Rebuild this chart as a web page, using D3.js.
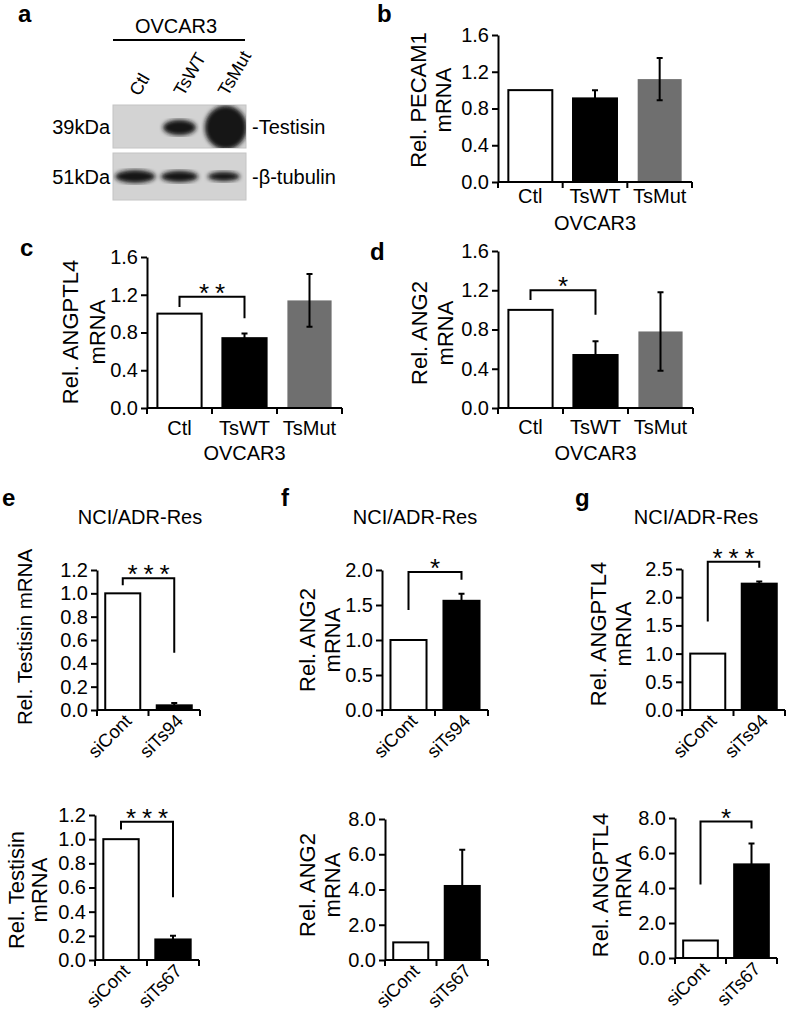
<!DOCTYPE html>
<html>
<head>
<meta charset="utf-8">
<script src="https://cdn.jsdelivr.net/npm/d3@7"></script>
<style>
  body { margin: 0; background: #fff; }
  svg text { font-family: "Liberation Sans", Arial, sans-serif; fill: #000; }
</style>
</head>
<body>
<svg id="fig" width="787" height="1015"></svg>
<script>
// ---- data ----
const blotLanes = ["Ctl", "TsWT", "TsMut"];
const testisinBand = [0, 0.35, 1.0];   // relative band strength
const tubulinBand = [1.0, 0.85, 0.6];

const ovcarGroups = ["Ctl", "TsWT", "TsMut"];
const pecam1Mean = [1.0, 0.91, 1.12];
const pecam1Err = [0, 0.09, 0.23];
const angptl4OvMean = [1.0, 0.74, 1.14];
const angptl4OvErr = [0, 0.05, 0.28];
const ang2OvMean = [1.0, 0.54, 0.78];
const ang2OvErr = [0, 0.14, 0.40];

const si94Groups = ["siCont", "siTs94"];
const si67Groups = ["siCont", "siTs67"];
const testisin94Mean = [1.0, 0.04];
const testisin94Err = [0, 0.02];
const ang2Si94Mean = [1.0, 1.56];
const ang2Si94Err = [0, 0.10];
const angptl4Si94Mean = [1.0, 2.24];
const angptl4Si94Err = [0, 0.04];
const testisin67Mean = [1.0, 0.17];
const testisin67Err = [0, 0.03];
const ang2Si67Mean = [1.0, 4.2];
const ang2Si67Err = [0, 2.05];
const angptl4Si67Mean = [1.0, 5.35];
const angptl4Si67Err = [0, 1.2];

const ticks16 = [0, 0.4, 0.8, 1.2, 1.6];
const ticks12 = [0, 0.2, 0.4, 0.6, 0.8, 1.0, 1.2];
const ticks20 = [0, 0.5, 1.0, 1.5, 2.0];
const ticks25 = [0, 0.5, 1.0, 1.5, 2.0, 2.5];
const ticks8 = [0, 2, 4, 6, 8];

const GREY = "#6f6f6f";
const ovFills = ["#fff", "#000", GREY];
const siFills = ["#fff", "#000"];

const svg = d3.select("#fig");

// ---- panel letters ----
const letters = [["a", 18, 22], ["b", 377, 22], ["c", 20, 256], ["d", 370, 260],
                 ["e", 2, 506], ["f", 281, 506], ["g", 575, 506]];
svg.selectAll("text.letter").data(letters).join("text")
  .attr("class", "letter")
  .attr("x", d => d[1]).attr("y", d => d[2])
  .style("font-size", "24px").style("font-weight", "bold")
  .text(d => d[0]);

// ---- panel a: western blot ----
function drawBlot() {
  const g = svg.append("g");
  const lx = d3.scaleBand().domain(blotLanes).range([113, 246]);

  g.append("text").attr("x", 176).attr("y", 33).attr("text-anchor", "middle")
    .style("font-size", "20px").text("OVCAR3");
  g.append("line").attr("x1", 113).attr("x2", 245).attr("y1", 40).attr("y2", 40)
    .attr("stroke", "#000").attr("stroke-width", 2);

  g.selectAll("text.lane").data(blotLanes).join("text")
    .attr("transform", d => `translate(${lx(d) + lx.bandwidth() / 2 + 4},97) rotate(-60)`)
    .style("font-size", "18px").text(d => d);

  const defs = svg.append("defs");
  defs.append("filter").attr("id", "blur").append("feGaussianBlur").attr("stdDeviation", 2.2);
  const panels = [
    { y: 105, h: 43, band: testisinBand, kda: "39kDa", name: "-Testisin", id: "c1" },
    { y: 153, h: 47, band: tubulinBand, kda: "51kDa", name: "-β-tubulin", id: "c2" }
  ];
  panels.forEach((p, k) => {
    defs.append("clipPath").attr("id", p.id).append("rect")
      .attr("x", 113).attr("y", p.y).attr("width", 133).attr("height", p.h);
    g.append("rect").attr("x", 113).attr("y", p.y).attr("width", 133).attr("height", p.h)
      .attr("fill", "#d3d3d3").attr("stroke", "#c4c4c4");
    const cy = p.y + p.h / 2 + (k === 0 ? 1 : 0);
    g.append("g").attr("clip-path", `url(#${p.id})`)
      .selectAll("ellipse").data(blotLanes.filter((d, i) => p.band[i] > 0)).join("ellipse")
      .attr("cx", d => lx(d) + lx.bandwidth() / 2 + (k === 0 && d === "TsMut" ? 2 : 0))
      .attr("cy", cy)
      .attr("rx", d => {
        const v = p.band[blotLanes.indexOf(d)];
        return k === 0 ? 14 + 7 * v : 10 + 10 * v;
      })
      .attr("ry", d => {
        const v = p.band[blotLanes.indexOf(d)];
        return k === 0 ? 22 * v : 2 + 4.5 * v;
      })
      .attr("fill", "#141414").attr("filter", "url(#blur)");
    g.append("text").attr("x", 110).attr("y", p.y + p.h / 2 + 7).attr("text-anchor", "end")
      .style("font-size", "20px").text(p.kda);
    g.append("text").attr("x", 252).attr("y", p.y + p.h / 2 + 7)
      .style("font-size", "20px").text(p.name);
  });
}
drawBlot();

// ---- bar panels ----
function drawPanel(c) {
  const g = svg.append("g");
  const x = d3.scaleBand().domain(c.cats).range([c.x0, c.x1]).paddingInner(0.32).paddingOuter(0.16);
  const y = d3.scaleLinear().domain([0, c.ymax]).range([c.yBot, c.yTop]);
  const cx = d => x(d) + x.bandwidth() / 2;

  g.selectAll("rect").data(c.cats).join("rect")
    .attr("x", d => x(d)).attr("width", x.bandwidth())
    .attr("y", (d, i) => y(c.mean[i])).attr("height", (d, i) => c.yBot - y(c.mean[i]))
    .attr("fill", (d, i) => c.fills[i])
    .attr("stroke", (d, i) => c.fills[i] === GREY ? "none" : "#000")
    .attr("stroke-width", 2);

  // error bars
  const eb = c.cats.map((d, i) => ({ d, m: c.mean[i], e: c.err[i] })).filter(o => o.e > 0);
  g.selectAll("path.err").data(eb).join("path")
    .attr("d", o => {
      const xc = cx(o.d), hi = y(o.m + o.e), lo = y(o.m - o.e);
      return `M${xc},${lo}V${hi}M${xc - 3},${hi}H${xc + 3}M${xc - 3},${lo}H${xc + 3}`;
    })
    .attr("stroke", "#000").attr("stroke-width", 2).attr("fill", "none");

  // y axis
  const ya = g.append("g").attr("transform", `translate(${c.x0},0)`)
    .call(d3.axisLeft(y).tickValues(c.ticks).tickFormat(d3.format(".1f"))
      .tickSize(6).tickSizeOuter(0).tickPadding(3));
  ya.select(".domain").attr("stroke-width", 2);
  ya.selectAll(".tick line").attr("stroke-width", 2);
  ya.selectAll(".tick text").style("font-size", "20px").attr("font-family", null);

  // x axis with boundary ticks
  const bounds = d3.range(c.cats.length + 1).map(i => c.x0 + i * x.step());
  g.append("path")
    .attr("d", `M${c.x0},${c.yBot}H${c.x1}` + bounds.map(b => `M${b},${c.yBot}V${c.yBot + 6}`).join(""))
    .attr("stroke", "#000").attr("stroke-width", 2).attr("fill", "none");

  // category labels
  if (c.rotated) {
    g.selectAll("text.cat").data(c.cats).join("text")
      .attr("transform", d => `translate(${cx(d) + 10},${c.yBot + 12}) rotate(-45)`)
      .attr("text-anchor", "end").style("font-size", "18.5px").text(d => d);
  } else {
    g.selectAll("text.cat").data(c.cats).join("text")
      .attr("x", cx).attr("y", c.xlabY).attr("text-anchor", "middle")
      .style("font-size", "20px").text(d => d);
  }
  if (c.sub) {
    g.append("text").attr("x", (c.x0 + c.x1) / 2).attr("y", c.subY)
      .attr("text-anchor", "middle").style("font-size", "20px").text(c.sub);
  }

  // y label
  c.ylabel.forEach((t, k) => {
    g.append("text").attr("transform", `translate(${c.ylabX[k]},${c.ylabY}) rotate(-90)`)
      .attr("text-anchor", "middle").attr("dy", "0.35em")
      .style("font-size", (c.ylabSize || 22) + "px").text(t);
  });

  // significance bracket
  if (c.sig) {
    const s = c.sig, xa = cx(c.cats[0]), xb = cx(c.cats[1]);
    g.append("path")
      .attr("d", `M${xa},${y(s.left)}V${y(s.top)}H${xb}V${y(s.right)}`)
      .attr("stroke", "#000").attr("stroke-width", 2).attr("fill", "none");
    const mid = (xa + xb) / 2;
    g.selectAll("text.star").data(d3.range(s.n)).join("text")
      .attr("x", i => mid + (i - (s.n - 1) / 2) * 16).attr("y", y(s.top) + 5)
      .attr("text-anchor", "middle").style("font-size", "26px").text("*");
  }
}

const panels = [
  { x0: 498, x1: 692, yTop: 35, yBot: 182, ymax: 1.6, ticks: ticks16, cats: ovcarGroups,
    mean: pecam1Mean, err: pecam1Err, fills: ovFills, ylabel: ["Rel. PECAM1", "mRNA"],
    ylabX: [418, 443], ylabY: 100, xlabY: 203, sub: "OVCAR3", subY: 230 },
  { x0: 147, x1: 342, yTop: 257, yBot: 408, ymax: 1.6, ticks: ticks16, cats: ovcarGroups,
    mean: angptl4OvMean, err: angptl4OvErr, fills: ovFills, ylabel: ["Rel. ANGPTL4", "mRNA"],
    ylabX: [70, 97], ylabY: 332, xlabY: 435, sub: "OVCAR3", subY: 460,
    sig: { n: 2, left: 1.07, top: 1.18, right: 0.95 } },
  { x0: 498, x1: 693, yTop: 251, yBot: 408, ymax: 1.6, ticks: ticks16, cats: ovcarGroups,
    mean: ang2OvMean, err: ang2OvErr, fills: ovFills, ylabel: ["Rel. ANG2", "mRNA"],
    ylabX: [419, 445], ylabY: 333, xlabY: 434, sub: "OVCAR3", subY: 460,
    sig: { n: 1, left: 1.10, top: 1.20, right: 0.95 } },
  { x0: 97, x1: 200, yTop: 570, yBot: 710, ymax: 1.2, ticks: ticks12, cats: si94Groups,
    mean: testisin94Mean, err: testisin94Err, fills: siFills, ylabel: ["Rel. Testisin mRNA"],
    ylabSize: 20.5, ylabX: [25], ylabY: 637, rotated: true,
    sig: { n: 3, left: 1.07, top: 1.13, right: 0.49 } },
  { x0: 382, x1: 488, yTop: 570, yBot: 710, ymax: 2.0, ticks: ticks20, cats: si94Groups,
    mean: ang2Si94Mean, err: ang2Si94Err, fills: siFills, ylabel: ["Rel. ANG2", "mRNA"],
    ylabX: [307, 332], ylabY: 640, rotated: true, sig: { n: 1, left: 1.43, top: 1.97, right: 1.86 } },
  { x0: 682, x1: 785, yTop: 569, yBot: 710, ymax: 2.5, ticks: ticks25, cats: si94Groups,
    mean: angptl4Si94Mean, err: angptl4Si94Err, fills: siFills, ylabel: ["Rel. ANGPTL4", "mRNA"],
    ylabX: [598, 623], ylabY: 634, rotated: true, sig: { n: 3, left: 1.57, top: 2.63, right: 2.52 } },
  { x0: 95, x1: 199, yTop: 815, yBot: 960, ymax: 1.2, ticks: ticks12, cats: si67Groups,
    mean: testisin67Mean, err: testisin67Err, fills: siFills, ylabel: ["Rel. Testisin", "mRNA"],
    ylabX: [16, 39], ylabY: 890, rotated: true, sig: { n: 3, left: 1.08, top: 1.145, right: 0.52 } },
  { x0: 385, x1: 488, yTop: 819, yBot: 960, ymax: 8, ticks: ticks8, cats: si67Groups,
    mean: ang2Si67Mean, err: ang2Si67Err, fills: siFills, ylabel: ["Rel. ANG2", "mRNA"],
    ylabX: [307, 332], ylabY: 885, rotated: true },
  { x0: 675, x1: 777, yTop: 818, yBot: 958, ymax: 8, ticks: ticks8, cats: si67Groups,
    mean: angptl4Si67Mean, err: angptl4Si67Err, fills: siFills, ylabel: ["Rel. ANGPTL4", "mRNA"],
    ylabX: [600, 623], ylabY: 885, rotated: true, sig: { n: 1, left: 4.2, top: 7.8, right: 7.4 } }
];
panels.forEach(drawPanel);

// column titles
svg.selectAll("text.title").data([140, 415, 696]).join("text")
  .attr("x", d => d).attr("y", 524).attr("text-anchor", "middle")
  .style("font-size", "20px").text("NCI/ADR-Res");
</script>
</body>
</html>
